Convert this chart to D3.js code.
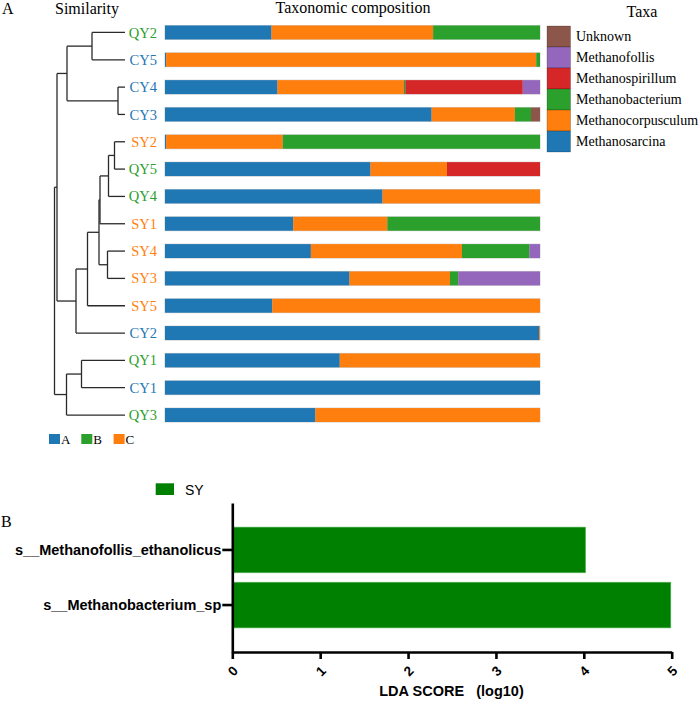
<!DOCTYPE html>
<html>
<head>
<meta charset="utf-8">
<script src="https://cdn.jsdelivr.net/npm/d3@7"></script>
<style>
  body { margin: 0; background: #fff; }
  svg { display: block; }
</style>
</head>
<body>
<div id="chart"></div>
<script>
// ---- data: panel A ----
const samples = ["QY2","CY5","CY4","CY3","SY2","QY5","QY4","SY1","SY4","SY3","SY5","CY2","QY1","CY1","QY3"];
const taxa = ["Methanosarcina","Methanocorpusculum","Methanobacterium","Methanospirillum","Methanofollis","Unknown"];
const methanosarcina     = [28.4, 0.3, 30.0, 71.1, 0.3, 54.8, 58.0, 34.2, 38.9, 49.2, 28.6, 99.8, 46.6, 100, 40.1];
const methanocorpusculum = [43.1, 98.7, 33.7, 22.2, 31.1, 20.4, 42.0, 25.1, 40.3, 26.8, 71.4, 0.2, 53.4, 0, 59.9];
const methanobacterium   = [28.5, 1.0, 0.4, 4.3, 68.6, 0, 0, 40.7, 18.0, 2.2, 0, 0, 0, 0, 0];
const methanospirillum   = [0, 0, 31.3, 0, 0, 24.8, 0, 0, 0, 0, 0, 0, 0, 0, 0];
const methanofollis      = [0, 0, 4.6, 0, 0, 0, 0, 0, 2.8, 21.8, 0, 0, 0, 0, 0];
const unknown            = [0, 0, 0, 2.4, 0, 0, 0, 0, 0, 0, 0, 0, 0, 0, 0];
const groups = ["A","B","C"];

// clustering merges: [node, left, right, height]
const merges = [
  ["n1", "SY2", "QY5", 10.5],
  ["n2", "CY4", "CY3", 7],
  ["n3", "n1", "QY4", 16.5],
  ["n4", "SY4", "SY3", 17.5],
  ["n5", "n3", "SY1", 25],
  ["n6", "n5", "n4", 26],
  ["n7", "n6", "SY5", 37.5],
  ["n8", "QY2", "CY5", 33],
  ["n9", "QY1", "CY1", 43.5],
  ["n10", "n7", "CY2", 49],
  ["n11", "n8", "n2", 58],
  ["n12", "n9", "QY3", 58.5],
  ["n13", "n11", "n10", 68],
  ["n14", "n13", "n12", 70.5]
];

// ---- data: panel B ----
const ldaFeatures = ["s__Methanofollis_ethanolicus","s__Methanobacterium_sp"];
const ldaScores = [4.02, 4.99];

const taxaColors = {
  Methanosarcina: "#1f77b4",
  Methanocorpusculum: "#ff7f0e",
  Methanobacterium: "#2ca02c",
  Methanospirillum: "#d62728",
  Methanofollis: "#9467bd",
  Unknown: "#8c564b"
};
const groupColors = { A: "#1f77b4", B: "#2ca02c", C: "#ff7f0e" };
const sampleColor = s => s.startsWith("QY") ? "#2ca02c" : s.startsWith("CY") ? "#1f77b4" : "#ff7f0e";

const serif = "'Liberation Serif','Times New Roman',serif";
const sans = "'Liberation Sans',Arial,sans-serif";

const svg = d3.select("#chart").append("svg")
  .attr("width", 700)
  .attr("height", 701);

// ---------------- Panel A ----------------
svg.append("text").attr("x", 2).attr("y", 14).text("A")
  .style("font-family", serif).style("font-size", "16px");
svg.append("text").attr("x", 55).attr("y", 14).text("Similarity")
  .style("font-family", serif).style("font-size", "16px");
svg.append("text").attr("x", 353).attr("y", 13).attr("text-anchor", "middle").text("Taxonomic composition")
  .style("font-family", serif).style("font-size", "16px");

const y = d3.scaleBand().domain(samples).range([18.8, 428.7]).paddingInner(0.49).paddingOuter(0.245);
const x = d3.scaleLinear().domain([0, 100]).range([165, 540]);

const table = samples.map((s, i) => ({
  sample: s,
  Methanosarcina: methanosarcina[i],
  Methanocorpusculum: methanocorpusculum[i],
  Methanobacterium: methanobacterium[i],
  Methanospirillum: methanospirillum[i],
  Methanofollis: methanofollis[i],
  Unknown: unknown[i]
}));
const stacked = d3.stack().keys(taxa)(table);

const barsG = svg.append("g");
barsG.selectAll("rect.bg")
  .data(samples)
  .enter().append("rect")
    .attr("x", x(0) - 0.5)
    .attr("y", d => y(d) - 0.5)
    .attr("width", x(100) - x(0) + 1)
    .attr("height", y.bandwidth() + 1)
    .attr("fill", "#d0d0d0");

barsG.selectAll("g.layer")
  .data(stacked)
  .enter().append("g")
    .attr("fill", d => taxaColors[d.key])
  .selectAll("rect")
  .data(d => d)
  .enter().append("rect")
    .attr("x", d => x(d[0]))
    .attr("y", d => y(d.data.sample))
    .attr("width", d => Math.max(0, x(d[1]) - x(d[0])))
    .attr("height", y.bandwidth());

// sample labels
svg.append("g").selectAll("text")
  .data(samples)
  .enter().append("text")
    .attr("x", 157)
    .attr("y", d => y(d) + y.bandwidth() / 2)
    .attr("dy", "0.35em")
    .attr("text-anchor", "end")
    .attr("fill", d => sampleColor(d))
    .style("font-family", serif)
    .style("font-size", "14.5px")
    .text(d => d);

// dendrogram
const hx = d3.scaleLinear().domain([0, 70.5]).range([125, 54.5]);
const nodes = {};
samples.forEach(s => { nodes[s] = { h: 0, y: y(s) + y.bandwidth() / 2 }; });
merges.forEach(([name, a, b, h]) => {
  nodes[name] = { h: h, y: (nodes[a].y + nodes[b].y) / 2, kids: [a, b] };
});
const segs = [];
merges.forEach(([name, a, b, h]) => {
  const nx = hx(h);
  segs.push([[nx, nodes[a].y], [nx, nodes[b].y]]);
  [a, b].forEach(k => segs.push([[nx, nodes[k].y], [hx(nodes[k].h), nodes[k].y]]));
});
svg.append("g").selectAll("path")
  .data(segs)
  .enter().append("path")
    .attr("d", d3.line())
    .attr("fill", "none")
    .attr("stroke", "#2a2a2a")
    .attr("stroke-width", 1.3);

// group legend
const gl = svg.append("g").selectAll("g")
  .data(groups)
  .enter().append("g")
    .attr("transform", (d, i) => `translate(${49 + i * 32.3},434)`);
gl.append("rect").attr("width", 11).attr("height", 10).attr("fill", d => groupColors[d]);
gl.append("text").attr("x", 12).attr("y", 10).text(d => d)
  .style("font-family", serif).style("font-size", "13px");

// taxa legend
svg.append("text").attr("x", 642).attr("y", 17).attr("text-anchor", "middle").text("Taxa")
  .style("font-family", serif).style("font-size", "16px");
const legendTaxa = taxa.slice().reverse();
const tl = svg.append("g").selectAll("g")
  .data(legendTaxa)
  .enter().append("g")
    .attr("transform", (d, i) => `translate(547,${26 + i * 21})`);
tl.append("rect").attr("width", 23.5).attr("height", 21)
  .attr("fill", d => taxaColors[d])
  .attr("stroke", "rgba(0,0,0,0.35)").attr("stroke-width", 0.6);
tl.append("text").attr("x", 29).attr("y", 10.5).attr("dy", "0.35em").text(d => d)
  .style("font-family", serif).style("font-size", "14px");

// ---------------- Panel B ----------------
svg.append("text").attr("x", 1).attr("y", 527).text("B")
  .style("font-family", serif).style("font-size", "16px");

svg.append("rect").attr("x", 155.7).attr("y", 483.3).attr("width", 18.3).attr("height", 11.7).attr("fill", "#008000");
svg.append("text").attr("x", 185).attr("y", 494.5).text("SY")
  .style("font-family", sans).style("font-size", "14px");

const lx = d3.scaleLinear().domain([0, 5]).range([232.3, 671.7]);
const ly = d3.scaleBand().domain(ldaFeatures).range([503, 652]).paddingInner(0.171).paddingOuter(0.4375);

svg.append("g").selectAll("rect")
  .data(ldaFeatures)
  .enter().append("rect")
    .attr("x", lx(0))
    .attr("y", d => ly(d))
    .attr("width", (d, i) => lx(ldaScores[i]) - lx(0))
    .attr("height", ly.bandwidth())
    .attr("fill", "#008000")
    .attr("stroke", "#5cb85c")
    .attr("stroke-width", 0.6);

const yAxis = svg.append("g")
  .attr("transform", `translate(${lx(0)},0)`)
  .call(d3.axisLeft(ly).tickSize(10).tickSizeOuter(0).tickPadding(1));
yAxis.select(".domain").attr("stroke-width", 2.6);
yAxis.selectAll(".tick line").attr("stroke-width", 2.6);
yAxis.selectAll(".tick text")
  .style("font-family", sans).style("font-size", "14.5px").style("font-weight", "bold").attr("fill", "#000");

const xAxis = svg.append("g")
  .attr("transform", `translate(0,652)`)
  .call(d3.axisBottom(lx).ticks(5).tickSize(7).tickSizeOuter(0).tickFormat(d3.format("d")));
xAxis.select(".domain").attr("stroke-width", 2.6);
xAxis.selectAll(".tick line").attr("stroke-width", 2.6);
xAxis.selectAll(".tick text")
  .attr("y", 0).attr("dy", "0.35em")
  .attr("transform", "translate(0,19) rotate(-45)")
  .attr("text-anchor", "middle")
  .style("font-family", sans).style("font-size", "13.5px").style("font-weight", "bold").attr("fill", "#000");

svg.append("text").attr("x", 451.5).attr("y", 696).attr("text-anchor", "middle")
  .attr("xml:space", "preserve")
  .style("white-space", "pre")
  .style("font-family", sans).style("font-size", "14.5px").style("font-weight", "bold")
  .text("LDA SCORE   (log10)");
</script>
</body>
</html>
